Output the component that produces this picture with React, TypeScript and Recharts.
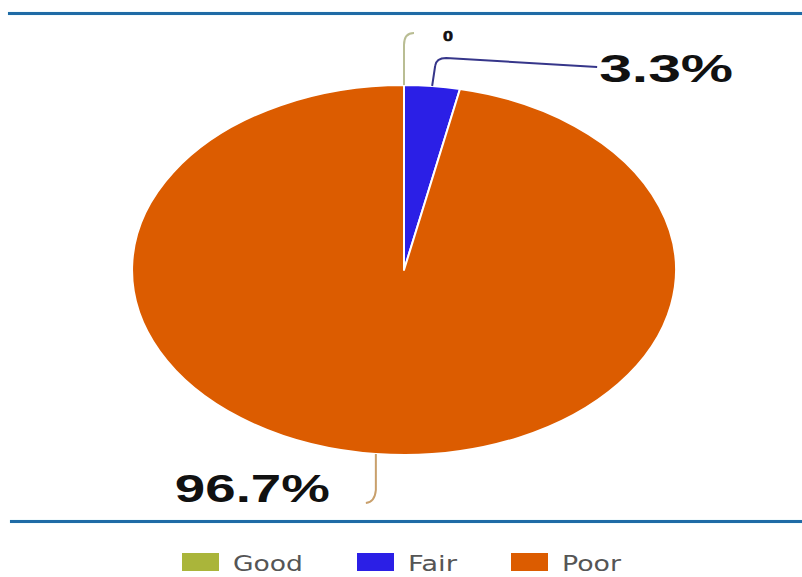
import { Cell, Legend, Pie, PieChart } from "recharts";

const categories = ["Good", "Fair", "Poor"];
const shares = [0, 3.3, 96.7];
const labels = ["0", "3.3%", "96.7%"];
const colors = ["#aab53a", "#2b1fe6", "#dc5c00"];
const lineColors = ["#b9bd93", "#36368a", "#c9a06c"];

const data = categories.map((name, i) => ({ name, value: shares[i] }));

// the source picture is stretched sideways, so the pie is an ellipse
const STRETCH = 1.47;
const RAD = Math.PI / 180;

function pt(cx: number, cy: number, r: number, a: number) {
  return [cx + r * STRETCH * Math.cos(-a * RAD), cy + r * Math.sin(-a * RAD)];
}

function EllipseSector(props: any) {
  const { cx, cy, outerRadius, startAngle, endAngle, fill } = props;
  if (Math.abs(endAngle - startAngle) < 0.01) return <g />;
  const [x0, y0] = pt(cx, cy, outerRadius, startAngle);
  const [x1, y1] = pt(cx, cy, outerRadius, endAngle);
  const large = Math.abs(endAngle - startAngle) > 180 ? 1 : 0;
  const sweep = endAngle < startAngle ? 1 : 0;
  const d = `M${cx},${cy} L${x0},${y0} A${outerRadius * STRETCH},${outerRadius} 0 ${large} ${sweep} ${x1},${y1} Z`;
  return <path d={d} fill={fill} stroke="#fff" strokeWidth={2} strokeLinejoin="round" />;
}

function renderLabel(props: any) {
  const { cx, cy, midAngle, outerRadius, index } = props;
  const [ax, ay] = pt(cx, cy, outerRadius, midAngle);
  const stroke = lineColors[index];
  const font = { fontFamily: "'Liberation Sans', Arial, sans-serif", fontWeight: 700, fill: "#111" };
  if (index === 0) {
    return (
      <g>
        <path d={`M${ax},${ay} L${ax},${ay - 40} Q${ax},${ay - 52} ${ax + 10},${ay - 52}`} fill="none" stroke={stroke} strokeWidth={2} />
        <text x={ax + 39} y={ay - 44} fontSize={15} textLength={10} lengthAdjust="spacingAndGlyphs" stroke="#111" strokeWidth={0.6} {...font}>{labels[index]}</text>
      </g>
    );
  }
  if (index === 1) {
    return (
      <g>
        <path d={`M${ax},${ay} L${ax + 3},${ay - 20} Q${ax + 4},${ay - 28} ${ax + 14},${ay - 28} L${ax + 165},${ay - 19}`} fill="none" stroke={stroke} strokeWidth={2} />
        <text x={ax + 167} y={ay - 4} fontSize={39} textLength={134} lengthAdjust="spacingAndGlyphs" {...font}>{labels[index]}</text>
      </g>
    );
  }
  return (
    <g>
      <path d={`M${ax},${ay} L${ax},${ay + 36} Q${ax - 1},${ay + 48} ${ax - 10},${ay + 49}`} fill="none" stroke={stroke} strokeWidth={2} />
      <text x={ax - 201} y={ay + 48} fontSize={39} textLength={155} lengthAdjust="spacingAndGlyphs" {...font}>{labels[index]}</text>
    </g>
  );
}

const legendTextWidths = [70, 49, 59];

function LegendContent() {
  let x = 182;
  const items = categories.map((c, i) => {
    const sx = x;
    x += 37 + 14 + legendTextWidths[i] + 54;
    return (
      <g key={c}>
        <rect x={sx} y={5} width={37} height={18} fill={colors[i]} />
        <text x={sx + 51} y={23} fontSize={21} fill="#555" fontFamily="'DejaVu Sans', sans-serif" textLength={legendTextWidths[i]} lengthAdjust="spacingAndGlyphs">{c}</text>
      </g>
    );
  });
  return (
    <svg width={802} height={29} style={{ display: "block" }}>
      {items}
    </svg>
  );
}

export default function App() {
  return (
    <div style={{ position: "absolute", left: 0, top: 0, width: 802, height: 577, background: "#fff" }}>
      <div style={{ position: "absolute", left: 8, right: 0, top: 12, height: 3, background: "#1f6ba6", boxShadow: "0 0 1px #7fd0e8" }} />
      <div style={{ position: "absolute", left: 10, right: 0, top: 520, height: 3, background: "#1f6ba6", boxShadow: "0 0 1px #7fd0e8" }} />
      <PieChart width={802} height={577} margin={{ top: 0, right: 0, bottom: 0, left: 0 }}>
        <Pie
          data={data}
          dataKey="value"
          nameKey="name"
          cx={404}
          cy={270}
          outerRadius={185}
          startAngle={90}
          endAngle={-270}
          shape={EllipseSector}
          label={renderLabel}
          labelLine={false}
          isAnimationActive={false}
        >
          {data.map((d, i) => (
            <Cell key={d.name} fill={colors[i]} />
          ))}
        </Pie>
        <Legend content={LegendContent} wrapperStyle={{ position: "absolute", left: 0, top: 548, width: 802 }} />
      </PieChart>
    </div>
  );
}
